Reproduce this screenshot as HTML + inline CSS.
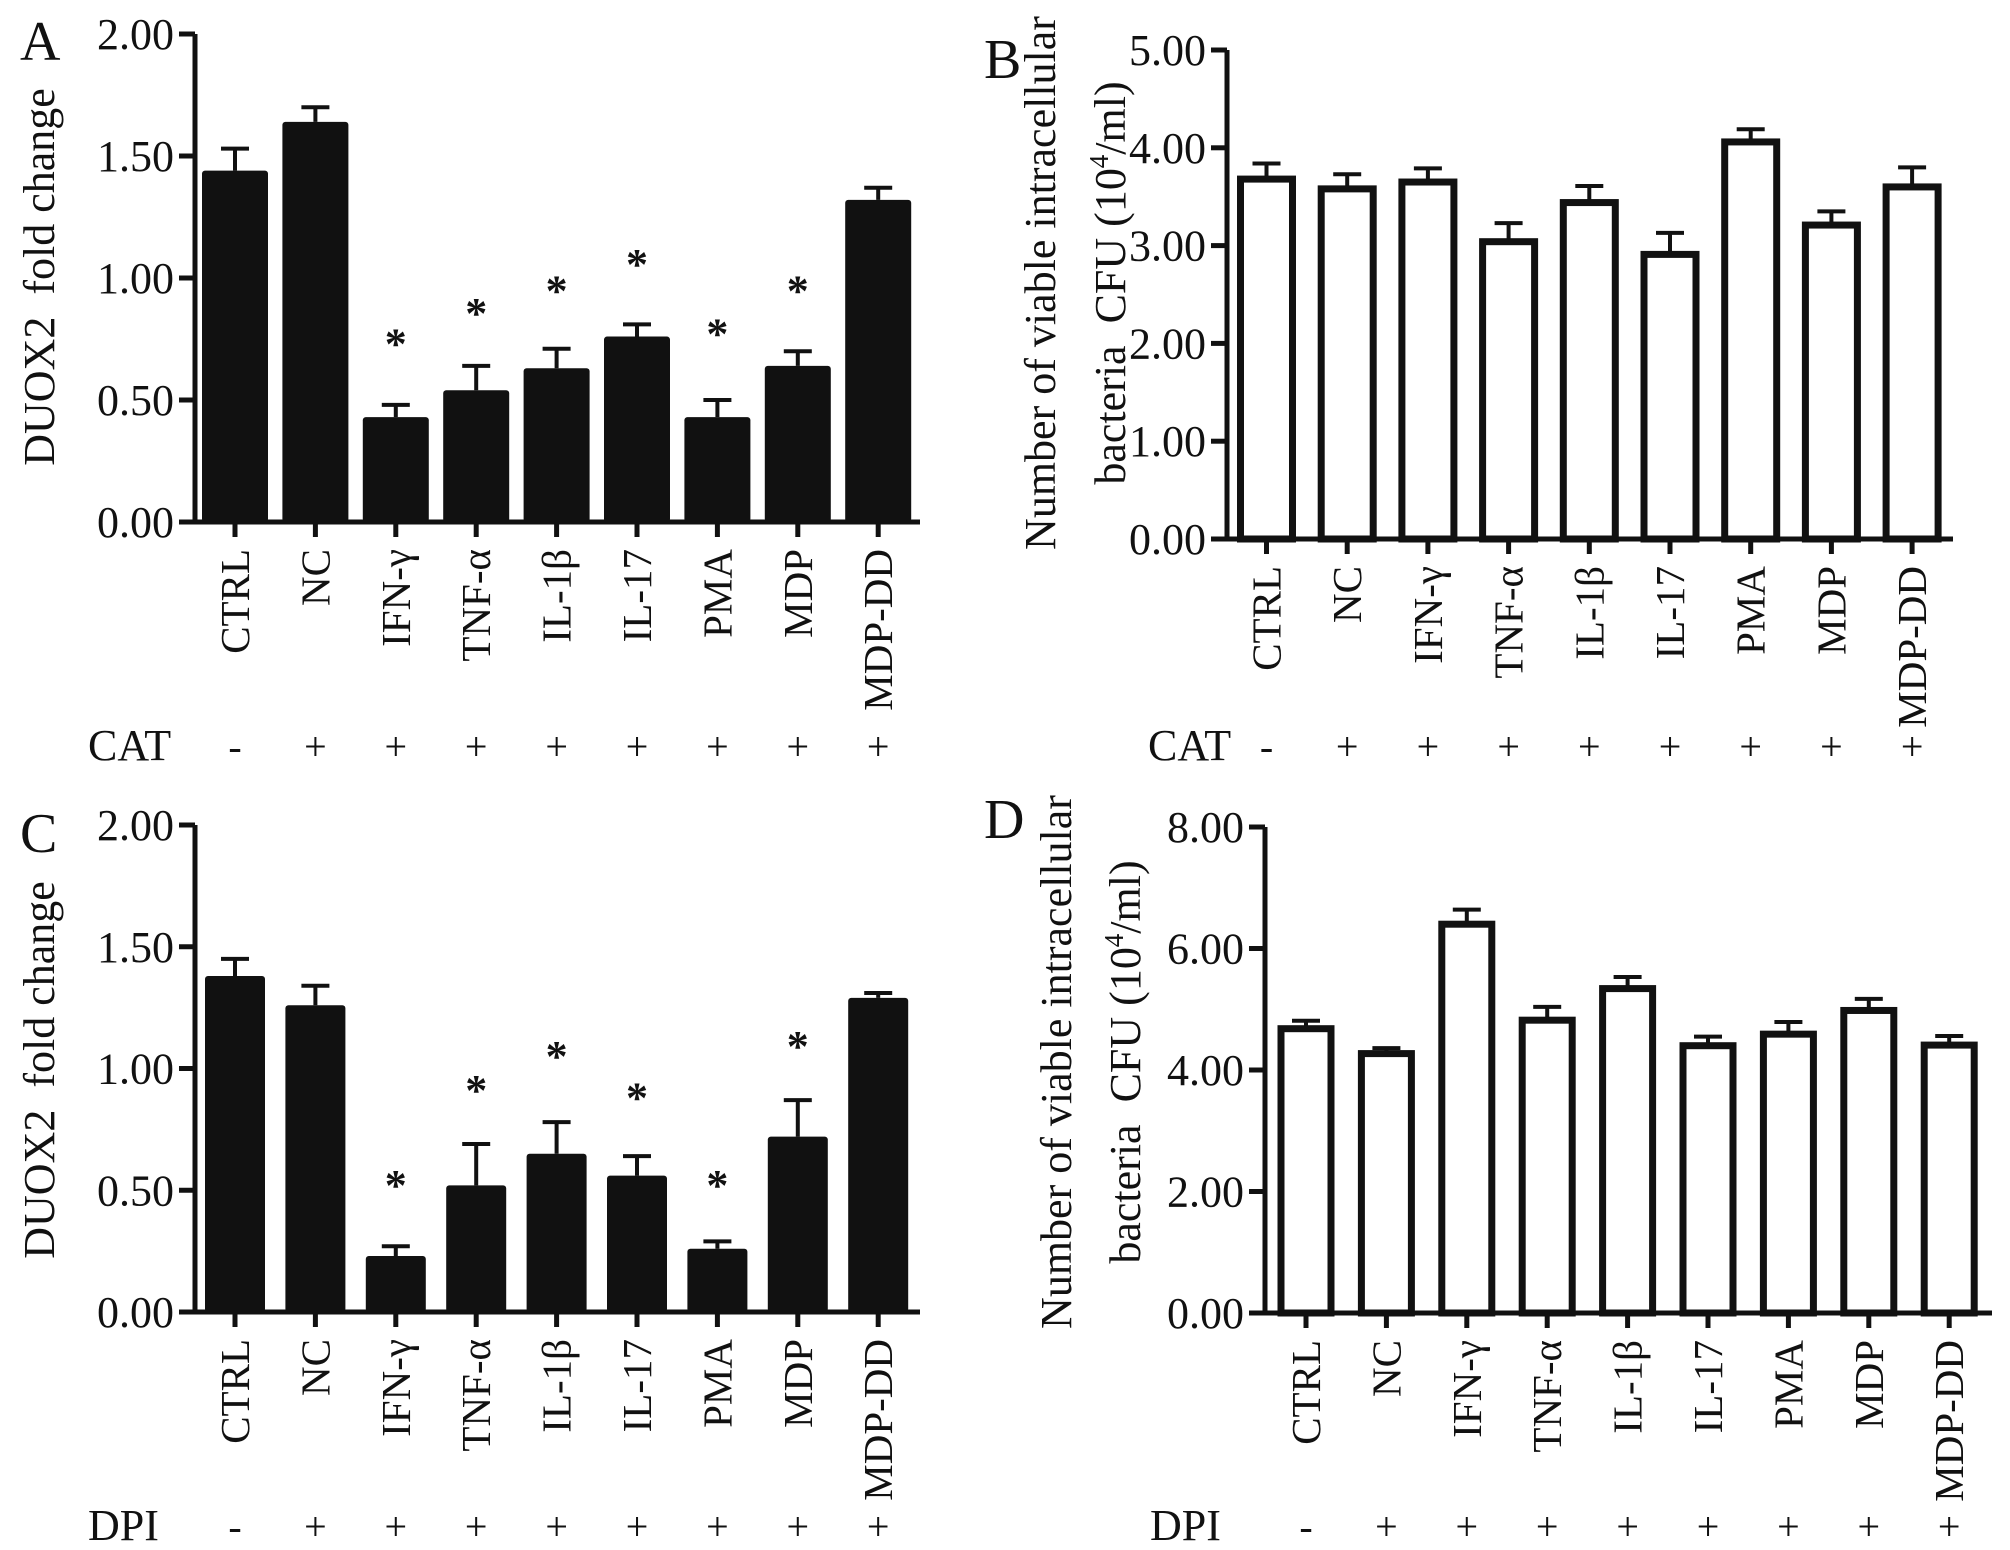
<!DOCTYPE html>
<html><head><meta charset="utf-8">
<style>
html,body{margin:0;padding:0;background:#fff;}
svg{display:block;}
text{font-family:"Liberation Serif","Times New Roman",serif;fill:#111;white-space:pre;}
</style></head>
<body>
<svg id="fig" width="2010" height="1550" viewBox="0 0 2010 1550" xmlns="http://www.w3.org/2000/svg"></svg>
<script>
const categories = ["CTRL","NC","IFN-γ","TNF-α","IL-1β","IL-17","PMA","MDP","MDP-DD"];
const treatA = ["-","+","+","+","+","+","+","+","+"];
const treatB = ["-","+","+","+","+","+","+","+","+"];
const ticksFold = [0,0.5,1,1.5,2];
const tickLabelsFold = ["0.00","0.50","1.00","1.50","2.00"];
const ticksB = [0,1,2,3,4,5];
const tickLabelsB = ["0.00","1.00","2.00","3.00","4.00","5.00"];
const ticksD = [0,2,4,6,8];
const tickLabelsD = ["0.00","2.00","4.00","6.00","8.00"];
const valuesA = [1.44,1.64,0.43,0.54,0.63,0.76,0.43,0.64,1.32];
const errorsA = [0.09,0.06,0.05,0.10,0.08,0.05,0.07,0.06,0.05];
const starsA = [null,null,0.74,0.865,0.957,1.065,0.78,0.957,null];
const valuesB = [3.68,3.58,3.65,3.04,3.44,2.91,4.06,3.21,3.60];
const errorsB = [0.16,0.15,0.14,0.19,0.17,0.22,0.13,0.14,0.20];
const valuesC = [1.38,1.26,0.23,0.52,0.65,0.56,0.26,0.72,1.29];
const errorsC = [0.07,0.08,0.04,0.17,0.13,0.08,0.03,0.15,0.02];
const starsC = [null,null,0.53,0.92,1.06,0.89,0.53,1.10,null];
const valuesD = [4.68,4.27,6.40,4.82,5.34,4.40,4.59,4.98,4.41];
const errorsD = [0.13,0.09,0.24,0.22,0.19,0.15,0.20,0.19,0.15];

const NS="http://www.w3.org/2000/svg";
const FF="Liberation Serif, Times New Roman, serif";
const svg=document.getElementById('fig');
function el(tag,attrs,parent,txt){const e=document.createElementNS(NS,tag);for(const k in attrs)e.setAttribute(k,attrs[k]);if(txt!==undefined)e.textContent=txt;(parent||svg).appendChild(e);return e;}

function panel(o){
  const g=el('g',{'font-family':FF});
  
  
  const yScale=v=>o.y0-(v-0)/(o.ymax)*(o.y0-o.ytop);
  const xScale=i=>o.x0+i*o.dx;
  const L=el('text',{x:o.letterX,y:o.letterY,'font-size':56,'font-family':FF},g,o.id);
  
  
  o.values.forEach((v,i)=>{
    const cx=xScale(i), top=yScale(v), et=yScale(v+o.errors[i]);
    const eb=el('path',{d:`M${cx} ${top} V${et} M${cx-14} ${et} H${cx+14}`,stroke:'#111','stroke-width':4,fill:'none'},g);
    
    
    let b;
    if(o.filled){
      b=el('rect',{x:cx-o.bw/2,y:top,width:o.bw,height:o.y0-top,fill:'#111',rx:3},g);
    }else{
      b=el('rect',{x:cx-o.bw/2+3,y:top,width:o.bw-6,height:o.y0-top,fill:'#fff',stroke:'#111','stroke-width':7},g);
    }
    
    
    if(o.stars&&o.stars[i]!=null){
      const s=el('text',{x:cx,y:yScale(o.stars[i])+17,'font-size':44,'text-anchor':'middle','font-family':'Liberation Sans, sans-serif','font-weight':'bold'},g,'*');
      
      
    }
  });
  const ax=el('path',{d:`M${o.axisX} ${o.ytop} V${o.y0} M${o.axisX-16} ${o.y0} H${o.xEnd}`,stroke:'#111','stroke-width':5,fill:'none'},g);
  
  
  o.ticks.forEach((t,i)=>{
    const y=yScale(t);
    el('line',{x1:o.axisX-16,x2:o.axisX,y1:y,y2:y,stroke:'#111','stroke-width':5},g);
    const tl=el('text',{x:o.axisX-21,y:y+15,'font-size':44,'text-anchor':'end','font-family':FF},g,o.tickLabels[i]);
    
    
  });
  categories.forEach((c,i)=>{
    const x=xScale(i);
    el('line',{x1:x,x2:x,y1:o.y0,y2:o.y0+15,stroke:'#111','stroke-width':5},g);
    const t=el('text',{x:0,y:0,'font-size':41,'text-anchor':'end','font-family':FF,transform:`translate(${x+14},${o.y0+27}) rotate(-90)`},g,c);
    
    
    const m=el('text',{x:x,y:o.rowY,'font-size':40,'text-anchor':'middle','font-family':FF},g,o.treat[i]);
    
    
  });
  const rl=el('text',{x:o.rowLabelX,y:o.rowY,'font-size':44,'font-family':FF},g,o.rowLabel);
  
  
  const t1=el('text',{x:0,y:0,'font-size':44,'text-anchor':'middle','font-family':FF,transform:`translate(${o.titleX1},${o.titleY}) rotate(-90)`},g,o.title1);
  
  
  if(o.title2){
    const t2=el('text',{x:0,y:0,'font-size':44,'text-anchor':'middle','font-family':FF,transform:`translate(${o.titleX2},${o.titleY}) rotate(-90)`},g);
    
    
    el('tspan',{},t2,'bacteria  CFU (10');
    el('tspan',{'font-size':27,dy:-17},t2,'4');
    el('tspan',{dy:17},t2,'/ml)');
  }
}

panel({id:'A',values:valuesA,errors:errorsA,stars:starsA,filled:true,ticks:ticksFold,tickLabels:tickLabelsFold,ymax:2,
  y0:522,ytop:34,axisX:195,x0:235,dx:80.4,bw:66,xEnd:920,letterX:20,letterY:60,rowY:760,rowLabel:'CAT',rowLabelX:88,treat:treatA,
  title1:'DUOX2  fold change',titleX1:54,titleY:277});
panel({id:'B',values:valuesB,errors:errorsB,filled:false,ticks:ticksB,tickLabels:tickLabelsB,ymax:5,
  y0:539,ytop:50,axisX:1227,x0:1266.5,dx:80.7,bw:58,xEnd:1953,letterX:984,letterY:78,rowY:760,rowLabel:'CAT',rowLabelX:1148,treat:treatB,
  title1:'Number of viable intracellular',title2:true,titleX1:1055,titleX2:1125,titleY:283});
panel({id:'C',values:valuesC,errors:errorsC,stars:starsC,filled:true,ticks:ticksFold,tickLabels:tickLabelsFold,ymax:2,
  y0:1312,ytop:825,axisX:195,x0:235,dx:80.4,bw:60,xEnd:920,letterX:20,letterY:852,rowY:1540,rowLabel:'DPI',rowLabelX:88,treat:treatA,
  title1:'DUOX2  fold change',titleX1:54,titleY:1070});
panel({id:'D',values:valuesD,errors:errorsD,filled:false,ticks:ticksD,tickLabels:tickLabelsD,ymax:8,
  y0:1313,ytop:827,axisX:1265,x0:1306,dx:80.4,bw:56,xEnd:1992,letterX:984,letterY:838,rowY:1540,rowLabel:'DPI',rowLabelX:1150,treat:treatB,
  title1:'Number of viable intracellular',title2:true,titleX1:1071,titleX2:1140,titleY:1062});
</script>
</body></html>
